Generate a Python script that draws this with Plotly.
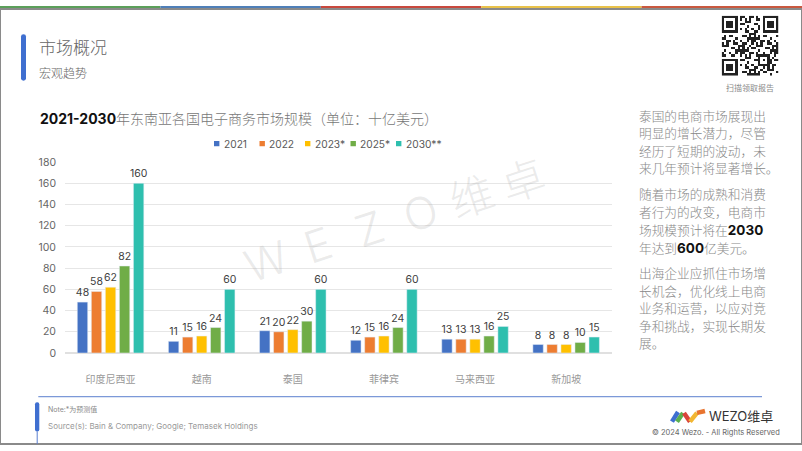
import plotly.graph_objects as go

W, H = 802, 451

# ---------------- data ----------------
categories = ["印度尼西亚", "越南", "泰国", "菲律宾", "马来西亚", "新加坡"]
series_names = ["2021", "2022", "2023*", "2025*", "2030**"]
series_colors = ["#4472C4", "#ED7D31", "#FFC000", "#70AD47", "#2EBFAE"]
v2021 = [48, 11, 21, 12, 13, 8]
v2022 = [58, 15, 20, 15, 13, 8]
v2023 = [62, 16, 22, 16, 13, 8]
v2025 = [82, 24, 30, 24, 16, 10]
v2030 = [160, 60, 60, 60, 25, 15]
series_values = [v2021, v2022, v2023, v2025, v2030]
y_ticks = [0, 20, 40, 60, 80, 100, 120, 140, 160, 180]

chart_title_bold = "2021-2030"
chart_title_rest = "年东南亚各国电子商务市场规模（单位：十亿美元）"
page_title = "市场概况"
page_subtitle = "宏观趋势"
side_paragraphs = [
    ["泰国的电商市场展现出", "明显的增长潜力，尽管", "经历了短期的波动，未", "来几年预计将显著增长。"],
    ["随着市场的成熟和消费", "者行为的改变，电商市", "场规模预计将在<b>2030</b>", "年达到<b>600</b>亿美元。"],
    ["出海企业应抓住市场增", "长机会，优化线上电商", "业务和运营，以应对竞", "争和挑战，实现长期发", "展。"],
]
note_text = "Note:*为预测值"
source_text = "Source(s): Bain & Company; Google; Temasek Holdings"
qr_caption = "扫描领取报告"
brand_text = "WEZO维卓"
copyright_text = "© 2024 Wezo. - All Rights Reserved"
watermark_text = "WEZO维卓"
band_colors = ["#5B9F5A", "#4F7FB8", "#C8483D", "#E9C24A", "#C9583F"]

FONT = "Inter, 'Noto Sans CJK SC', 'Noto Sans', sans-serif"


def X(p):
    return p / W


def Y(p):
    return 1 - p / H


def rrect(x0, y0, x1, y1, r):
    pts = [
        ("M", [(x0 + r, y0)]), ("L", [(x1 - r, y0)]), ("Q", [(x1, y0), (x1, y0 + r)]),
        ("L", [(x1, y1 - r)]), ("Q", [(x1, y1), (x1 - r, y1)]), ("L", [(x0 + r, y1)]),
        ("Q", [(x0, y1), (x0, y1 - r)]), ("L", [(x0, y0 + r)]), ("Q", [(x0, y0), (x0 + r, y0)]),
    ]
    s = ""
    for cmd, ps in pts:
        s += cmd + " ".join(f"{X(a):.5f},{Y(b):.5f}" for a, b in ps)
    return s + "Z"


fig = go.Figure()

for name, color, vals in zip(series_names, series_colors, series_values):
    fig.add_trace(go.Bar(
        name=name, x=categories, y=vals, marker_color=color,
        text=vals, textposition="outside", constraintext="none", cliponaxis=False,
        textfont=dict(size=10.5, color="#404040"), showlegend=False, hoverinfo="skip",
    ))

# QR-like decoration
N = 25
z = [[0] * N for _ in range(N)]
for i in range(N):
    for j in range(N):
        z[i][j] = 1 if ((i * 13 + j * 7 + (i * j) % 5) % 3 == 0 or (i + 2 * j) % 5 == 1) else 0


def finder(r0, c0, size=7):
    for i in range(size):
        for j in range(size):
            edge = i in (0, size - 1) or j in (0, size - 1)
            ring = i in (1, size - 2) or j in (1, size - 2)
            z[r0 + i][c0 + j] = 1 if edge else (0 if ring else 1)


for (r0, c0) in [(0, 0), (0, N - 7), (N - 7, 0)]:
    for i in range(-1, 8):
        for j in range(-1, 8):
            if 0 <= r0 + i < N and 0 <= c0 + j < N:
                z[r0 + i][c0 + j] = 0
    finder(r0, c0)
finder(16, 16, 5)

fig.add_trace(go.Heatmap(z=z, xaxis="x2", yaxis="y2", showscale=False, hoverinfo="skip",
                         colorscale=[[0, "#ffffff"], [1, "#222222"]]))

shapes = []
ann = []

# top colour band
seg = W / len(band_colors)
for k, c in enumerate(band_colors):
    shapes.append(dict(type="rect", xref="paper", yref="paper", x0=X(k * seg), x1=X((k + 1) * seg),
                       y0=Y(4), y1=Y(0), fillcolor=c, line_width=0, layer="above"))
# page border
shapes.append(dict(type="rect", xref="paper", yref="paper", x0=0, x1=1, y0=0, y1=Y(3),
                   line=dict(color="#8a8a8a", width=2), fillcolor="rgba(0,0,0,0)"))

# header
shapes.append(dict(type="path", xref="paper", yref="paper", path=rrect(21, 29, 26, 77, 2.5),
                   fillcolor="#3F6FD0", line_width=0))
ann.append(dict(x=X(37), y=Y(43), text=page_title, xanchor="left", yanchor="middle",
                font=dict(size=17, color="#666666", weight=300)))
ann.append(dict(x=X(37), y=Y(69), text=page_subtitle, xanchor="left", yanchor="middle",
                font=dict(size=12, color="#666666", weight=300)))

# QR caption
ann.append(dict(x=X(750), y=Y(84), text=qr_caption, xanchor="center", yanchor="middle",
                font=dict(size=8, color="#8a8a8a")))

# chart title
ann.append(dict(x=X(37.5), y=Y(116), xanchor="left", yanchor="middle",
                text=f"<b>{chart_title_bold}</b><span style='color:#777777;font-weight:300'>{chart_title_rest}</span>",
                font=dict(size=14, color="#111111")))

# legend (manual, compact)
for i, (name, color) in enumerate(zip(series_names, series_colors)):
    cx = 216.7 + 45.5 * i
    shapes.append(dict(type="rect", xref="paper", yref="paper", x0=X(cx - 2.7), x1=X(cx + 2.7),
                       y0=Y(144.4), y1=Y(139), fillcolor=color, line_width=0))
    ann.append(dict(x=X(cx + 5), y=Y(141.7), text=name, xanchor="left", yanchor="middle",
                    font=dict(size=10.2, color="#595959")))

# watermark
for i, ch in enumerate(watermark_text):
    ann.append(dict(x=X(266.7 + 51.3 * i), y=Y(263 - 16.6 * i), text=ch, textangle=-18,
                    xanchor="center", yanchor="middle",
                    font=dict(size=44, color="rgba(150,150,150,0.20)", weight=300)))

# side text
yy = 113.3
for para in side_paragraphs:
    for line in para:
        line = line.replace("<b>", "<span style='color:#111111;font-size:13.5px'><b>").replace("</b>", "</b></span>")
        ann.append(dict(x=X(637), y=Y(yy), text=line, xanchor="left", yanchor="middle",
                        font=dict(size=12.7, color="#888888", weight=300)))
        yy += 18.1
    yy += 8.7

# footer
shapes.append(dict(type="line", xref="paper", yref="paper", x0=X(38.3), x1=X(762), y0=Y(402.3), y1=Y(402.3),
                   line=dict(color="#5B7FCF", width=1)))
shapes.append(dict(type="path", xref="paper", yref="paper", path=rrect(35, 408, 39.3, 438, 2),
                   fillcolor="#3F6FD0", line_width=0))
shapes.append(dict(type="line", xref="paper", yref="paper", x0=X(37.2), x1=X(37.2), y0=Y(438), y1=Y(451),
                   line=dict(color="#5B7FCF", width=1)))
ann.append(dict(x=X(46), y=Y(415), text=note_text, xanchor="left", yanchor="middle",
                font=dict(size=7, color="#8a8a8a")))
ann.append(dict(x=X(46), y=Y(432.7), text=source_text, xanchor="left", yanchor="middle",
                font=dict(size=8, color="#999999")))

# logo
logo_strokes = [
    ("#3F6FD0", (672, 428), (678, 418)),
    ("#5BB04F", (677, 428), (683, 419)),
    ("#D9443A", (684, 419), (690, 428)),
    ("#F2B632", (690, 428), (697, 419)),
    ("#E8742F", (697, 419), (705, 417)),
]
for c, (ax0, ay0), (ax1, ay1) in logo_strokes:
    shapes.append(dict(type="line", xref="paper", yref="paper", x0=X(ax0), y0=Y(ay0), x1=X(ax1), y1=Y(ay1),
                       line=dict(color=c, width=4.5)))
ann.append(dict(x=X(707), y=Y(422.5), text=brand_text, xanchor="left", yanchor="middle",
                font=dict(size=13, color="#333333")))
ann.append(dict(x=X(782), y=Y(439.3), text=copyright_text, xanchor="right", yanchor="middle",
                font=dict(size=7.5, color="#666666")))

for a in ann:
    a.update(xref="paper", yref="paper", showarrow=False)

fig.update_layout(
    width=W, height=H, margin=dict(l=0, r=0, t=0, b=0),
    paper_bgcolor="white", plot_bgcolor="white",
    font=dict(family=FONT, color="#595959"),
    barmode="group", bargap=0.23, bargroupgap=0.26,
    shapes=shapes, annotations=ann,
    xaxis=dict(domain=[X(65), X(611.7)], showgrid=False, showline=False, ticks="",
               tickfont=dict(size=10, color="#999999"), ticklabelstandoff=19, fixedrange=True),
    yaxis=dict(domain=[Y(357.3), Y(160.7)], range=[0, 180], tickvals=y_ticks,
               gridcolor="#e6e6e6", gridwidth=1, zeroline=True, zerolinecolor="#e0e0e0",
               showline=False, ticks="", tickfont=dict(size=10.5, color="#666666"),
               ticklabelstandoff=8, fixedrange=True),
    xaxis2=dict(domain=[X(721.7), X(778.3)], anchor="y2", visible=False, fixedrange=True),
    yaxis2=dict(domain=[Y(71.7), Y(10)], anchor="x2", visible=False, autorange="reversed", fixedrange=True),
)

fig.write_html("out.html", config={"displayModeBar": False},
               post_script="document.body.style.margin='0';document.body.style.padding='0';")
